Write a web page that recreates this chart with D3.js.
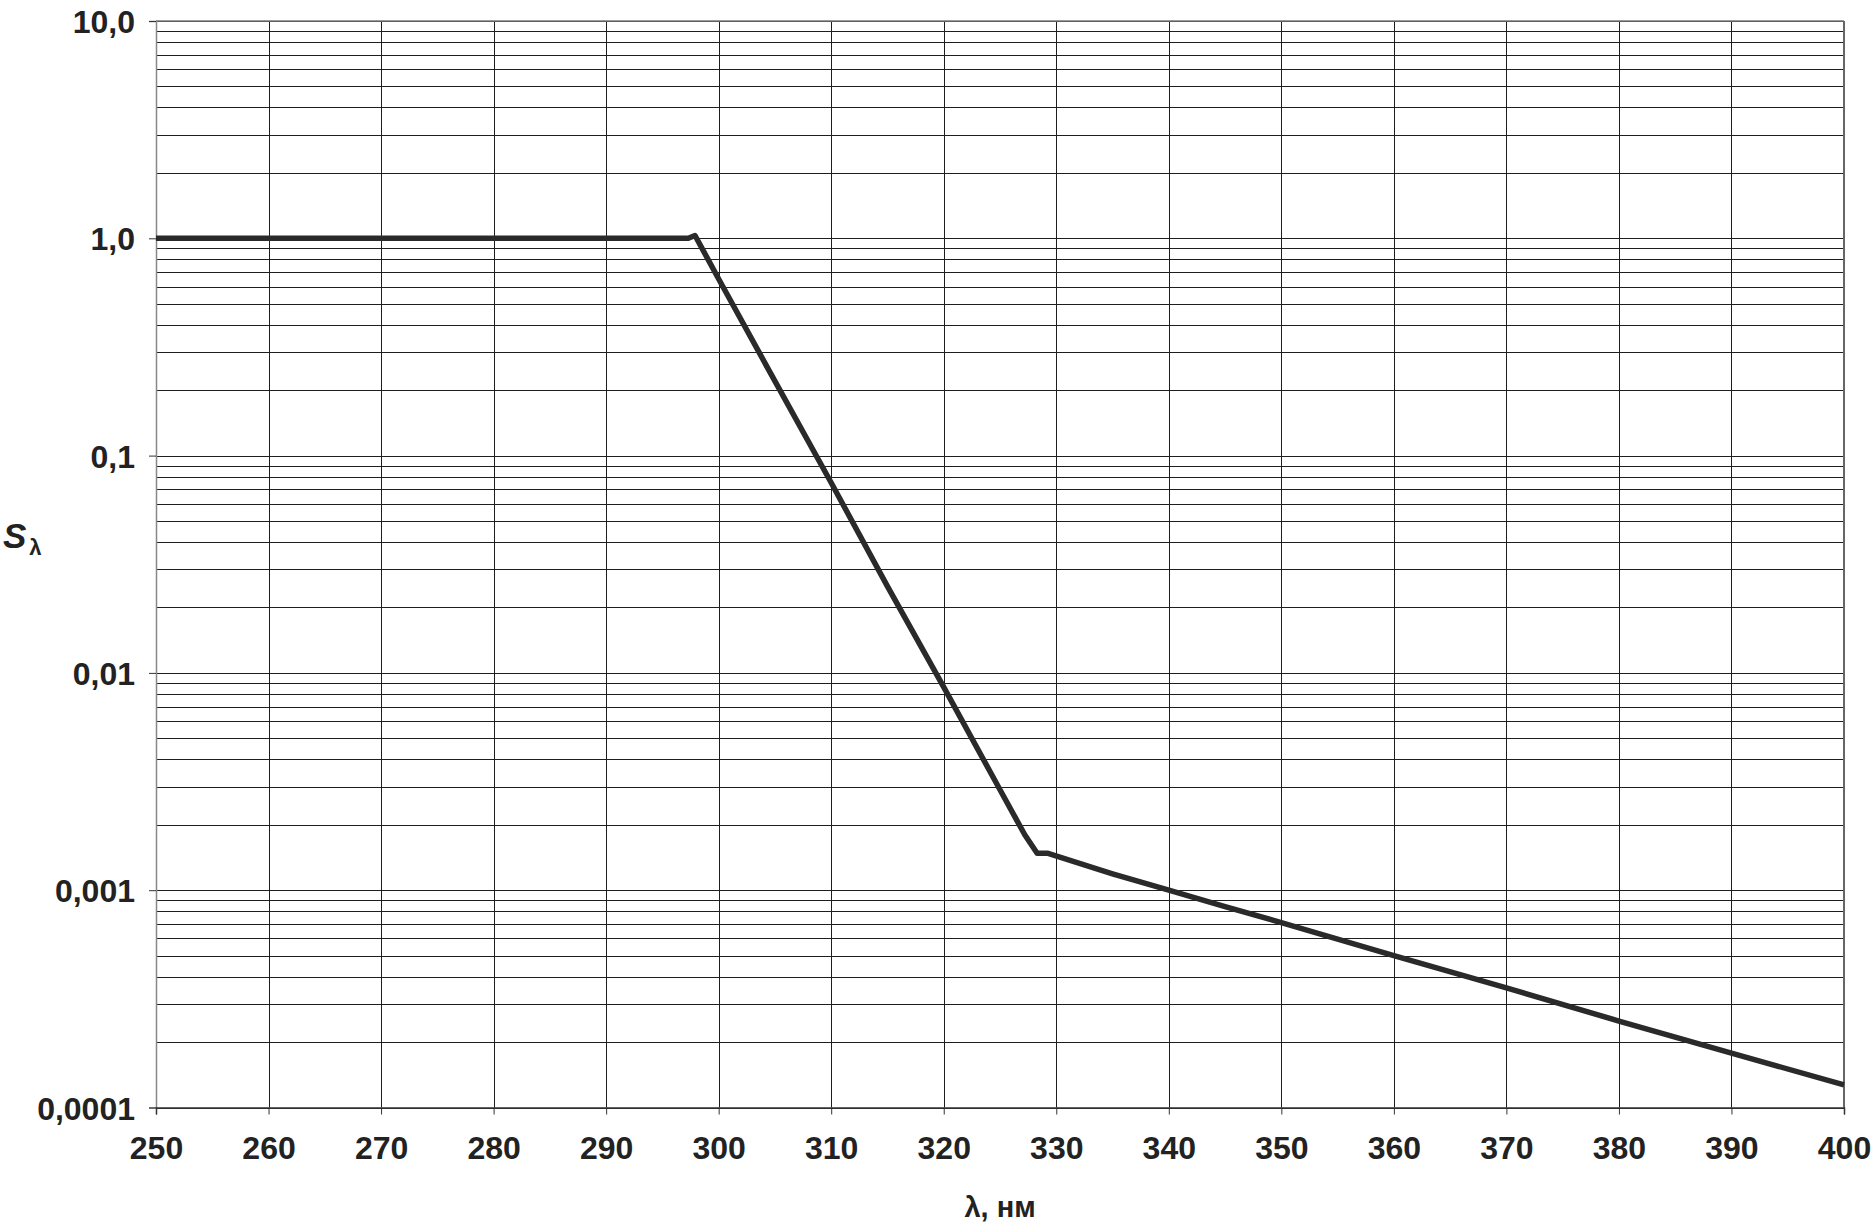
<!DOCTYPE html>
<html><head><meta charset="utf-8">
<script src="https://cdn.jsdelivr.net/npm/d3@7"></script>
<style>
html,body{margin:0;padding:0;background:#fff;}
svg{display:block;font-family:"Liberation Sans",Arial,sans-serif;}
</style></head>
<body>
<svg id="c" width="1874" height="1226"></svg>
<script>
// Data
const wavelengths = [250, 260, 270, 280, 290, 297.3, 297.9, 300, 305, 310, 315, 320, 325, 327.2, 328.3, 329.2, 335, 340, 345, 350, 360, 370, 380, 390, 400];
const sValues     = [1.0, 1.0, 1.0, 1.0, 1.0, 1.0, 1.03, 0.65, 0.22, 0.075, 0.025, 0.0086, 0.0029, 0.0018, 0.00148, 0.00148, 0.00119, 0.001, 0.00084, 0.00071, 0.0005, 0.000355, 0.00025, 0.000178, 0.000127];
const xTicks = [250,260,270,280,290,300,310,320,330,340,350,360,370,380,390,400];
const yTicks = [10, 1, 0.1, 0.01, 0.001, 0.0001];
const yTickLabels = ["10,0", "1,0", "0,1", "0,01", "0,001", "0,0001"];
const xTitle = "λ, нм";
const yTitleMain = "S";
const yTitleSub = "λ";

const L = 156, R = 1844, T = 21, B = 1107.5;
const svg = d3.select("#c");
const x = d3.scaleLinear().domain([250, 400]).range([L, R]);
const y = d3.scaleLog().domain([0.0001, 10]).range([B, T]);
const snap = v => Math.round(v) + 0.5;

// minor grid values
const minorY = [];
for (let e = -4; e < 1; e++) for (let m = 2; m <= 9; m++) minorY.push(m * Math.pow(10, e));

const gGrid = svg.append("g");
gGrid.selectAll("line.h").data(minorY.concat(yTicks)).join("line")
  .attr("x1", L).attr("x2", R).attr("y1", d => snap(y(d))).attr("y2", d => snap(y(d)))
  .attr("stroke", "#1e1e1e").attr("stroke-width", 1);
gGrid.selectAll("line.v").data(xTicks).join("line")
  .attr("x1", d => snap(x(d))).attr("x2", d => snap(x(d))).attr("y1", T).attr("y2", B)
  .attr("stroke", "#1e1e1e").attr("stroke-width", 1);

// frame
svg.append("line").attr("x1", L).attr("x2", R).attr("y1", T).attr("y2", T).attr("stroke", "#777").attr("stroke-width", 1.5);
svg.append("line").attr("x1", R).attr("x2", R).attr("y1", T).attr("y2", B).attr("stroke", "#666").attr("stroke-width", 2);

const fontFam = "'Liberation Sans',Arial,sans-serif";
// axes
const yAxis = svg.append("g").attr("transform", `translate(${L},0)`)
  .call(d3.axisLeft(y).tickValues(yTicks).tickSize(7).tickPadding(14).tickFormat((d, i) => yTickLabels[i]));
yAxis.select(".domain").attr("stroke", "#888").attr("stroke-width", 1.5);
yAxis.selectAll("line").attr("stroke", "#333");
yAxis.selectAll("text").attr("font-size", 32).attr("font-weight", "bold").attr("fill", "#222").attr("font-family", fontFam).attr("dy", "0.36em");

const xAxis = svg.append("g").attr("transform", `translate(0,${B})`)
  .call(d3.axisBottom(x).tickValues(xTicks).tickSize(7).tickPadding(22).tickFormat(d => d));
xAxis.select(".domain").attr("stroke", "#333").attr("stroke-width", 1.5);
xAxis.selectAll("line").attr("stroke", "#333");
xAxis.selectAll("text").attr("font-size", 32).attr("font-weight", "bold").attr("fill", "#222").attr("font-family", fontFam);

// curve
const pts = wavelengths.map((w, i) => [w, sValues[i]]);
svg.append("path").datum(pts)
  .attr("d", d3.line().x(d => x(d[0])).y(d => y(d[1])))
  .attr("fill", "none").attr("stroke", "#2a2a2a").attr("stroke-width", 5.5).attr("stroke-linejoin", "round").attr("stroke-linecap", "butt");

// titles
svg.append("text").attr("x", (L + R) / 2).attr("y", 1217).attr("text-anchor", "middle")
  .attr("font-size", 29).attr("font-weight", "bold").attr("fill", "#222").text(xTitle);
const yt = svg.append("text").attr("x", 3).attr("y", 548).attr("fill", "#222").attr("font-weight", "bold");
yt.append("tspan").attr("font-size", 35).attr("font-style", "italic").text(yTitleMain);
yt.append("tspan").attr("font-size", 22).attr("dy", 7).attr("dx", 3).text(yTitleSub);
</script>
</body></html>
